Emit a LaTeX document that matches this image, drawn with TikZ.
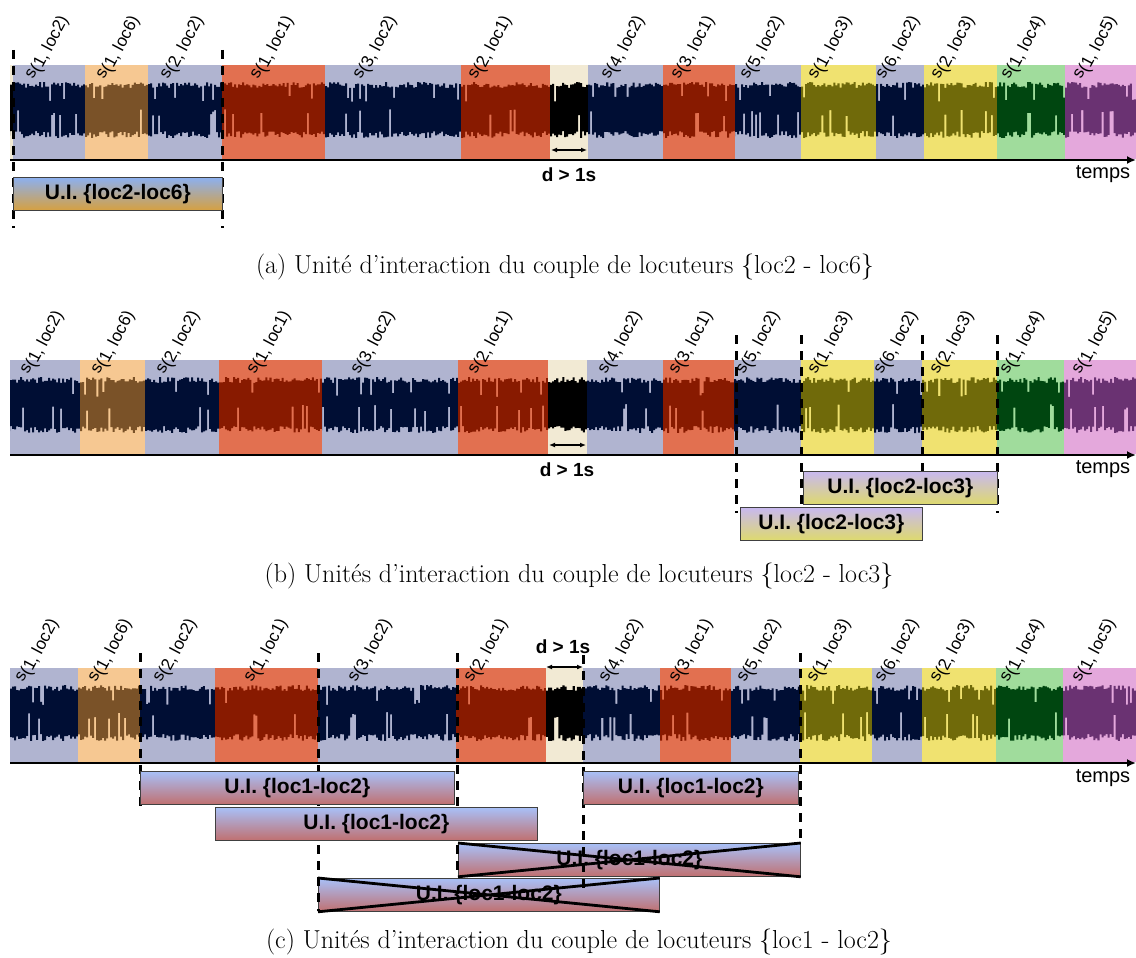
\documentclass[tikz,border=0pt]{standalone}
\usepackage{fontspec}
\setsansfont{Liberation Sans}
\usetikzlibrary{arrows.meta}
% strip colours (light background / dark signal)
\definecolor{lgray}{RGB}{176,180,208}
\definecolor{lorange}{RGB}{246,200,146}
\definecolor{lred}{RGB}{226,112,80}
\definecolor{lbeige}{RGB}{242,234,212}
\definecolor{lyellow}{RGB}{240,226,112}
\definecolor{lgreen}{RGB}{160,220,156}
\definecolor{lpink}{RGB}{228,168,220}
\definecolor{dnavy}{RGB}{0,14,52}
\definecolor{dbrown}{RGB}{122,82,40}
\definecolor{dred}{RGB}{136,26,0}
\definecolor{dblack}{RGB}{0,0,0}
\definecolor{dolive}{RGB}{112,106,10}
\definecolor{dgreen}{RGB}{0,70,16}
\definecolor{dpurple}{RGB}{106,50,114}
% box gradients
\definecolor{uiatop}{RGB}{140,176,240}
\definecolor{uiabot}{RGB}{214,160,64}
\definecolor{uibtop}{RGB}{200,184,240}
\definecolor{uibbot}{RGB}{222,218,110}
\definecolor{uictop}{RGB}{168,192,248}
\definecolor{uicbot}{RGB}{192,112,112}

% one speech segment: background + rough waveform
\newcommand{\wavestrip}[4]{%
  \fill[#3] (#1,0) rectangle (#2,94);
  \pgfmathtruncatemacro{\wvn}{max(1,(#2-#1)/2)}%
  \pgfmathsetmacro{\wvw}{(#2-#1)/\wvn}%
  \fill[#4] (#1,{19+4*rnd})
    \foreach \k in {1,...,\wvn}{ -| ({#1+\k*\wvw},{17+6*rnd+14*(rnd>0.94)}) }
    -- (#2,{70-4*rnd})
    \foreach \k in {\wvn,...,1}{ -| ({#1+(\k-1)*\wvw},{73-7*rnd-22*(rnd>0.92)}) }
    -- cycle;}

\begin{document}
\begin{tikzpicture}[x=1pt,y=-1pt,
    seglabel/.style={font=\fontsize{17}{17}\selectfont\sffamily, rotate=62, anchor=base west, inner sep=0pt},
    uibox/.style={draw=black!75, line width=0.8pt, anchor=north west, inner sep=0pt,
      minimum height=33pt, font=\fontsize{21}{21}\selectfont\sffamily\bfseries},
    uia/.style={uibox, top color=uiatop, bottom color=uiabot},
    uib/.style={uibox, top color=uibtop, bottom color=uibbot},
    uic/.style={uibox, top color=uictop, bottom color=uicbot},
    uiline/.style={line width=3pt, dash pattern=on 9pt off 7pt},
    cross/.style={line width=2.8pt},
    axis/.style={line width=2.8pt, -{Latex[length=9pt,width=8pt]}},
    gap/.style={line width=1.5pt, {Latex[length=6pt,width=5pt]}-{Latex[length=6pt,width=5pt]}},
    gaplabel/.style={font=\fontsize{19}{19}\selectfont\sffamily\bfseries},
    timelabel/.style={font=\fontsize{20}{20}\selectfont\sffamily},
    capt/.style={font=\fontsize{26}{30}\selectfont}]
  \pgfmathsetseed{7}
  \useasboundingbox[fill=white] (0,0) rectangle (1136,958);

  % (a) strip
  \begin{scope}[shift={(0,65)}]
    \foreach \xa/\xb/\lite/\dark in {10/13/lbeige/dblack, 13/85/lgray/dnavy, 85/148/lorange/dbrown,
        148/222/lgray/dnavy, 222/325/lred/dred, 325/461/lgray/dnavy, 461/550/lred/dred,
        550/588/lbeige/dblack, 588/663/lgray/dnavy, 663/735/lred/dred, 735/801/lgray/dnavy,
        801/876/lyellow/dolive, 876/924/lgray/dnavy, 924/997/lyellow/dolive,
        997/1065/lgreen/dgreen, 1065/1136/lpink/dpurple}
      {\wavestrip{\xa}{\xb}{\lite}{\dark}}
    \foreach \sx/\txt [count=\i] in {37/{1, loc2}, 108/{1, loc6}, 172/{2, loc2}, 262/{1, loc1},
        365/{3, loc2}, 480/{2, loc1}, 613/{4, loc2}, 683/{3, loc1}, 752/{5, loc2}, 820/{1, loc3},
        888/{6, loc2}, 943/{2, loc3}, 1013/{1, loc4}, 1085/{1, loc5}}
      \node[seglabel] (sa-\i) at (\sx-4,15) {s\raisebox{-3pt}{(\txt)}};
    \draw[axis] (10,95) -- (1136,95);
    \node[timelabel] (ta) at (1103,109) {temps};
    \coordinate (gapa-l) at (551,85);
    \coordinate (gapa-r) at (587,85);
    \draw[gap] (gapa-l) -- (gapa-r);
    \node[gaplabel] (da) at (569,110) {d > 1s};
    % interaction unit
    \draw[uiline] (13,-15) -- (13,163);
    \draw[uiline] (222,-15) -- (222,163);
    \node[uia, minimum width=209pt] (ui-a) at (13,112) {U.I. \{loc2-loc6\}};
  \end{scope}
  \node[capt] (cap-a) at (565,267) {(a) Unité d'interaction du couple de locuteurs \{loc2 - loc6\}};

  % (b) strip
  \begin{scope}[shift={(0,360)}]
    \foreach \xa/\xb/\lite/\dark in {10/80/lgray/dnavy, 80/145/lorange/dbrown,
        145/219/lgray/dnavy, 219/322/lred/dred, 322/458/lgray/dnavy, 458/548/lred/dred,
        548/587/lbeige/dblack, 587/663/lgray/dnavy, 663/734/lred/dred, 734/801/lgray/dnavy,
        801/874/lyellow/dolive, 874/922/lgray/dnavy, 922/997/lyellow/dolive,
        997/1064/lgreen/dgreen, 1064/1136/lpink/dpurple}
      {\wavestrip{\xa}{\xb}{\lite}{\dark}}
    \foreach \sx/\txt [count=\i] in {32/{1, loc2}, 103/{1, loc6}, 168/{2, loc2}, 259/{1, loc1},
        363/{3, loc2}, 480/{2, loc1}, 610/{4, loc2}, 681/{3, loc1}, 748/{5, loc2}, 820/{1, loc3},
        886/{6, loc2}, 942/{2, loc3}, 1012/{1, loc4}, 1084/{1, loc5}}
      \node[seglabel] (sb-\i) at (\sx-4,15) {s\raisebox{-3pt}{(\txt)}};
    \draw[axis] (10,95) -- (1136,95);
    \node[timelabel] (tb) at (1103,109) {temps};
    \coordinate (gapb-l) at (549,85);
    \coordinate (gapb-r) at (586,85);
    \draw[gap] (gapb-l) -- (gapb-r);
    \node[gaplabel] (db) at (567,110) {d > 1s};
    % interaction units
    \draw[uiline] (736,-25) -- (736,153);
    \draw[uiline] (801,-25) -- (801,145);
    \draw[uiline] (922,-25) -- (922,145);
    \draw[uiline] (997,-25) -- (997,153);
    \node[uib, minimum width=194pt] (ui-b1) at (803,111) {U.I. \{loc2-loc3\}};
    \node[uib, minimum width=182pt] (ui-b2) at (740,147) {U.I. \{loc2-loc3\}};
  \end{scope}
  \node[capt] (cap-b) at (579,576) {(b) Unités d'interaction du couple de locuteurs \{loc2 - loc3\}};

  % (c) strip
  \begin{scope}[shift={(0,668)}]
    \foreach \xa/\xb/\lite/\dark in {10/78/lgray/dnavy, 78/140/lorange/dbrown,
        140/215/lgray/dnavy, 215/318/lred/dred, 318/456/lgray/dnavy, 456/546/lred/dred,
        546/583/lbeige/dblack, 583/660/lgray/dnavy, 660/731/lred/dred, 731/800/lgray/dnavy,
        800/872/lyellow/dolive, 872/922/lgray/dnavy, 922/996/lyellow/dolive,
        996/1063/lgreen/dgreen, 1063/1136/lpink/dpurple}
      {\wavestrip{\xa}{\xb}{\lite}{\dark}}
    \foreach \sx/\txt [count=\i] in {27/{1, loc2}, 100/{1, loc6}, 165/{2, loc2}, 256/{1, loc1},
        360/{3, loc2}, 476/{2, loc1}, 611/{4, loc2}, 681/{3, loc1}, 749/{5, loc2}, 819/{1, loc3},
        887/{6, loc2}, 942/{2, loc3}, 1012/{1, loc4}, 1084/{1, loc5}}
      \node[seglabel] (sc-\i) at (\sx-4,15) {s\raisebox{-3pt}{(\txt)}};
    \draw[axis] (10,95) -- (1136,95);
    \node[timelabel] (tc) at (1103,110) {temps};
    \coordinate (gapc-l) at (546,-1);
    \coordinate (gapc-r) at (583,-1);
    \draw[gap] (gapc-l) -- (gapc-r);
    \node[gaplabel] (dc) at (563,-21) {d > 1s};
    % rejected units (under the boundaries)
    \node[uic, minimum width=342pt] (ui-c4) at (458,175) {U.I. \{loc1-loc2\}};
    \node[uic, minimum width=341pt] (ui-c5) at (318,210) {U.I. \{loc1-loc2\}};
    \draw[uiline] (140,-15) -- (140,142);
    \draw[uiline] (318,-15) -- (318,243);
    \draw[uiline] (457,-15) -- (457,207);
    \draw[uiline] (583,-13) -- (583,227);
    \draw[uiline] (800,-15) -- (800,175);
    \draw[cross] (ui-c4.north west) -- (ui-c4.south east) (ui-c4.south west) -- (ui-c4.north east);
    \draw[cross] (ui-c5.north west) -- (ui-c5.south east) (ui-c5.south west) -- (ui-c5.north east);
    % kept units
    \node[uic, minimum width=314pt] (ui-c1) at (140,103) {U.I. \{loc1-loc2\}};
    \node[uic, minimum width=215pt] (ui-c2) at (583,103) {U.I. \{loc1-loc2\}};
    \node[uic, minimum width=322pt] (ui-c3) at (215,139) {U.I. \{loc1-loc2\}};
  \end{scope}
  \node[capt] (cap-c) at (579,942) {(c) Unités d'interaction du couple de locuteurs \{loc1 - loc2\}};
\end{tikzpicture}
\end{document}
